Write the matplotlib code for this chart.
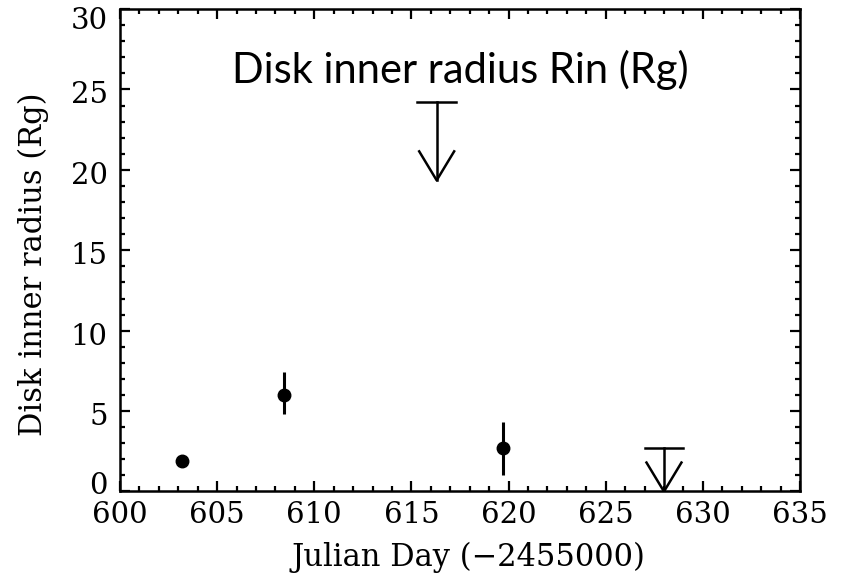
import numpy as np
import matplotlib.pyplot as plt
import matplotlib.transforms as mtransforms
from matplotlib.ticker import MultipleLocator

# measured inner radii (JD - 2455000)
days = [603.2, 608.45, 619.7]
rin = [1.9, 6.0, 2.7]
err_lo = [0.3, 1.2, 1.65]
err_hi = [0.3, 1.4, 1.65]

# upper limits only
ul_days = [616.3, 628.0]
ul_rin = [24.2, 2.68]

xticks = [600, 605, 610, 615, 620, 625, 630, 635]
yticks = [0, 5, 10, 15, 20, 25, 30]

serif = 'DejaVu Serif'

fig = plt.figure(figsize=(8.41, 5.82), dpi=100)
ax = fig.add_axes([0.1427, 0.1555, 0.8085, 0.829])

ax.errorbar(days, rin, yerr=[err_lo, err_hi], fmt='o', color='black',
            ms=9, elinewidth=2.2, capsize=0)

# upper limit symbols: bar, shaft and open arrow head
arr_len = 4.85
hw, hl = 0.9, 1.8
for x, y in zip(ul_days, ul_rin):
    tip = max(y - arr_len, 0.0)
    ax.plot([x - 1, x + 1], [y, y], color='black', lw=1.8)
    ax.plot([x, x], [y, tip], color='black', lw=1.8)
    ax.plot([x - hw, x, x + hw], [tip + hl, tip, tip + hl], color='black', lw=1.8)

ax.set_xlim(600, 635)
ax.set_ylim(0, 30)
ax.set_xticks(xticks)
ax.set_yticks(yticks)
ax.set_xticklabels([str(t) for t in xticks], fontfamily=serif, fontsize=21)
ax.set_yticklabels([str(t) for t in yticks], fontfamily=serif, fontsize=21)
ax.xaxis.set_minor_locator(MultipleLocator(1))
ax.yaxis.set_minor_locator(MultipleLocator(1))
ax.tick_params(which='both', direction='in', top=True, right=True, width=1.6)
ax.tick_params(which='major', length=7.5)
ax.tick_params(axis='x', which='major', pad=7)
ax.tick_params(axis='y', which='major', pad=9)
ax.tick_params(which='minor', length=3.8)
for s in ax.spines.values():
    s.set_linewidth(1.8)

# nudge y labels: slightly down overall, end labels pulled inside
ylabs = ax.get_yticklabels()
for i, lab in enumerate(ylabs):
    dy = -3
    if i == 0:
        dy = 8
    elif i == len(ylabs) - 1:
        dy = -9
    off = mtransforms.ScaledTranslation(0, dy / 100.0, fig.dpi_scale_trans)
    lab.set_transform(lab.get_transform() + off)

ax.set_xlabel('Julian Day (\u22122455000)', fontfamily=serif, fontsize=22)
ax.set_ylabel('Disk inner radius (Rg)', fontfamily=serif, fontsize=22)
ax.xaxis.set_label_coords(0.513, -0.105)
ax.yaxis.set_label_coords(-0.104, 0.47)

ax.text(0.5, 0.874, 'Disk inner radius Rin (Rg)', transform=ax.transAxes,
        ha='center', va='center', fontfamily='Lato', fontsize=30)

fig.savefig('out.png', dpi=100)
